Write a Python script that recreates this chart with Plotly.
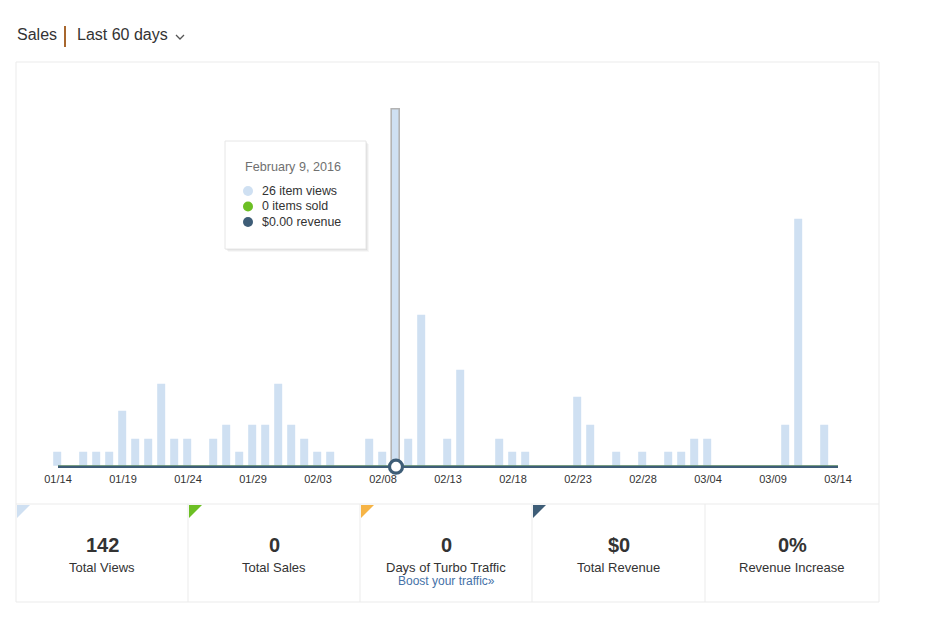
import plotly.graph_objects as go
import pandas as pd

# ---------------- data ----------------
start_date = "2016-01-14"
dates = [d.strftime("%Y-%m-%d") for d in pd.date_range(start_date, periods=61, freq="D")]

item_views = [1, 0, 1, 1, 1, 4, 2, 2, 6, 2,
              2, 0, 2, 3, 1, 3, 3, 6, 3, 2,
              1, 1, 0, 0, 2, 1, 26, 2, 11, 0,
              2, 7, 0, 0, 2, 1, 1, 0, 0, 0,
              5, 3, 0, 1, 0, 1, 0, 1, 1, 2,
              2, 0, 0, 0, 0, 0, 3, 18, 0, 3,
              0]
items_sold = [0, 0, 0, 0, 0, 0, 0, 0, 0, 0,
              0, 0, 0, 0, 0, 0, 0, 0, 0, 0,
              0, 0, 0, 0, 0, 0, 0, 0, 0, 0,
              0, 0, 0, 0, 0, 0, 0, 0, 0, 0,
              0, 0, 0, 0, 0, 0, 0, 0, 0, 0,
              0, 0, 0, 0, 0, 0, 0, 0, 0, 0,
              0]
revenue = [0, 0, 0, 0, 0, 0, 0, 0, 0, 0,
           0, 0, 0, 0, 0, 0, 0, 0, 0, 0,
           0, 0, 0, 0, 0, 0, 0, 0, 0, 0,
           0, 0, 0, 0, 0, 0, 0, 0, 0, 0,
           0, 0, 0, 0, 0, 0, 0, 0, 0, 0,
           0, 0, 0, 0, 0, 0, 0, 0, 0, 0,
           0]

tick_dates = ["2016-01-14", "2016-01-19", "2016-01-24", "2016-01-29", "2016-02-03",
              "2016-02-08", "2016-02-13", "2016-02-18", "2016-02-23", "2016-02-28",
              "2016-03-04", "2016-03-09", "2016-03-14"]
tick_labels = ["01/14", "01/19", "01/24", "01/29", "02/03", "02/08", "02/13",
               "02/18", "02/23", "02/28", "03/04", "03/09", "03/14"]

hover_date = "2016-02-09"
hover_title = "February 9, 2016"
hover_lines = ["26 item views", "0 items sold", "$0.00 revenue"]

stat_values = ["142", "0", "0", "$0", "0%"]
stat_labels = ["Total Views", "Total Sales", "Days of Turbo Traffic", "Total Revenue", "Revenue Increase"]
stat_link = "Boost your traffic»"

# ---------------- style ----------------
PAGE_W, PAGE_H = 927, 628
OFF = 8  # page body margin
W, H = PAGE_W - 2 * OFF, PAGE_H - 2 * OFF
C_VIEWS = "#cfe0f2"
C_SOLD = "#6cbf24"
C_TURBO = "#f6b446"
C_REV = "#3e5d77"
C_TEXT = "#333333"
C_BORDER = "#ebebeb"
FONT = "Arial, Liberation Sans, sans-serif"


def px(x):
    return (x - OFF) / W


def py(y):
    return 1 - (y - OFF) / H


# pixel geometry of the plot (page pixels)
x0_px, day_px = 58.0, 13.0
base_px, unit_px = 466.7, 13.75
y_lo, y_hi = -0.3, 27.5
d0 = pd.Timestamp(start_date)
x_range = [d0 - pd.Timedelta(days=(x0_px - OFF) / day_px),
           d0 + pd.Timedelta(days=(W + OFF - x0_px) / day_px)]
dom_bottom = py(base_px - y_lo * unit_px)
dom_top = py(base_px - y_hi * unit_px)

line_colors = ["#b3b3b3" if d == hover_date else "rgba(0,0,0,0)" for d in dates]

fig = go.Figure()
fig.add_trace(go.Bar(
    x=dates, y=item_views, width=86400000 * 0.62,
    marker=dict(color=C_VIEWS, line=dict(color=line_colors, width=1.6)),
    name="item views",
))
fig.add_trace(go.Scatter(x=dates, y=items_sold, mode="lines",
                         line=dict(color=C_SOLD, width=2.5), name="items sold"))
fig.add_trace(go.Scatter(x=dates, y=revenue, mode="lines",
                         line=dict(color=C_REV, width=2.5), name="revenue"))
hi = dates.index(hover_date)
fig.add_trace(go.Scatter(x=[dates[hi]], y=[revenue[hi]], mode="markers", cliponaxis=False,
                         marker=dict(size=13, color="white", line=dict(color=C_REV, width=3.2))))

shapes = []
annotations = []

# chart outer box
shapes.append(dict(type="rect", xref="paper", yref="paper", x0=px(16), x1=px(879), y0=py(602), y1=py(62),
                   line=dict(color=C_BORDER, width=1), layer="below"))
shapes.append(dict(type="line", xref="paper", yref="paper", x0=px(16), x1=px(879), y0=py(504), y1=py(504),
                   line=dict(color=C_BORDER, width=1)))
edges = [16, 188, 360, 532, 705, 879]
for e in edges[1:-1]:
    shapes.append(dict(type="line", xref="paper", yref="paper", x0=px(e), x1=px(e), y0=py(504), y1=py(602),
                       line=dict(color=C_BORDER, width=1)))
tri_colors = [C_VIEWS, C_SOLD, C_TURBO, C_REV]
for e, c in zip(edges[:4], tri_colors):
    xa = e + 1
    shapes.append(dict(type="path", xref="paper", yref="paper",
                       path=f"M {px(xa)},{py(505)} L {px(xa + 13)},{py(505)} L {px(xa)},{py(518)} Z",
                       fillcolor=c, line=dict(width=0)))

for i, (v, lab) in enumerate(zip(stat_values, stat_labels)):
    cx = (edges[i] + edges[i + 1]) / 2
    annotations.append(dict(x=px(cx), y=py(545), xref="paper", yref="paper", text=f"<b>{v}</b>",
                            showarrow=False, font=dict(size=20, color=C_TEXT, family=FONT),
                            xanchor="center", yanchor="middle"))
    annotations.append(dict(x=px(cx), y=py(567), xref="paper", yref="paper", text=lab,
                            showarrow=False, font=dict(size=13, color=C_TEXT, family=FONT),
                            xanchor="center", yanchor="middle"))
annotations.append(dict(x=px((edges[2] + edges[3]) / 2), y=py(581), xref="paper", yref="paper",
                        text=stat_link, showarrow=False, font=dict(size=12, color="#4672a8", family=FONT),
                        xanchor="center", yanchor="middle"))

# header
annotations.append(dict(x=px(15), y=py(35), xref="paper", yref="paper", text="Sales", showarrow=False,
                        font=dict(size=16, color=C_TEXT, family=FONT), xanchor="left", yanchor="middle"))
shapes.append(dict(type="line", xref="paper", yref="paper", x0=px(65), x1=px(65), y0=py(26), y1=py(47),
                   line=dict(color="#a8672e", width=2)))
annotations.append(dict(x=px(75), y=py(35), xref="paper", yref="paper", text="Last 60 days", showarrow=False,
                        font=dict(size=16, color=C_TEXT, family=FONT), xanchor="left", yanchor="middle"))
shapes.append(dict(type="path", xref="paper", yref="paper",
                   path=f"M {px(176)},{py(35)} L {px(180)},{py(39)} L {px(184)},{py(35)}",
                   line=dict(color="#555555", width=1.3)))

# tooltip
for off, col in [(3, "rgba(0,0,0,0.03)"), (2, "rgba(0,0,0,0.045)"), (1, "rgba(0,0,0,0.06)")]:
    shapes.append(dict(type="rect", xref="paper", yref="paper", x0=px(225 + off), x1=px(366 + off),
                       y0=py(249 + off), y1=py(141 + off), fillcolor=col, line=dict(width=0)))
shapes.append(dict(type="rect", xref="paper", yref="paper", x0=px(225), x1=px(366), y0=py(249), y1=py(141),
                   fillcolor="white", line=dict(color="#e6e6e6", width=1)))
annotations.append(dict(x=px(242.5), y=py(167), xref="paper", yref="paper", text=hover_title, showarrow=False,
                        font=dict(size=12.6, color="#707070", family=FONT), xanchor="left", yanchor="middle"))
dot_colors = [C_VIEWS, C_SOLD, C_REV]
for k, (txt, c) in enumerate(zip(hover_lines, dot_colors)):
    yy = 191 + 15.5 * k
    r = 5
    shapes.append(dict(type="circle", xref="paper", yref="paper", x0=px(248 - r), x1=px(248 + r),
                       y0=py(yy + r), y1=py(yy - r), fillcolor=c, line=dict(width=0)))
    annotations.append(dict(x=px(259.5), y=py(yy), xref="paper", yref="paper", text=txt, showarrow=False,
                            font=dict(size=12.4, color=C_TEXT, family=FONT), xanchor="left", yanchor="middle"))

fig.update_layout(
    width=W, height=H, margin=dict(l=0, r=0, t=0, b=0),
    paper_bgcolor="white", plot_bgcolor="rgba(0,0,0,0)",
    showlegend=False, hovermode=False, bargap=0,
    font=dict(family=FONT, color=C_TEXT),
    shapes=shapes, annotations=annotations,
    xaxis=dict(type="date", range=x_range, domain=[0, 1], tickvals=tick_dates, ticktext=tick_labels,
               showgrid=False, zeroline=False, showline=False, ticks="",
               tickfont=dict(size=11, color=C_TEXT, family=FONT), fixedrange=True),
    yaxis=dict(range=[y_lo, y_hi], domain=[dom_bottom, dom_top], showgrid=False, zeroline=False,
               showline=False, showticklabels=False, ticks="", fixedrange=True),
)

fig.write_html("out.html")
